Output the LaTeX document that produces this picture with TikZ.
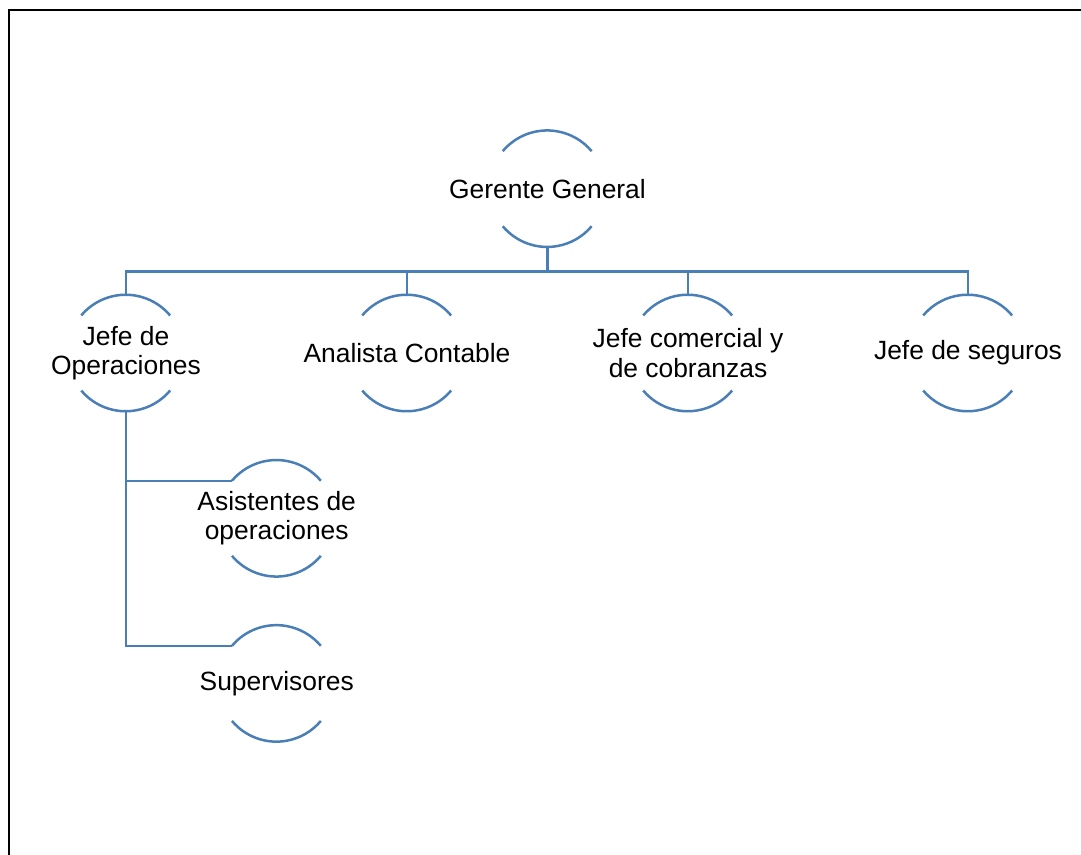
\documentclass[tikz,border=0pt]{standalone}
\usepackage{fontspec}
\setmainfont{Liberation Sans}
\usepackage{tikz}
\usetikzlibrary{positioning,calc}
\pgfdeclarelayer{bg}
\pgfsetlayers{bg,main}
\definecolor{orgblue}{RGB}{74,126,182}

\tikzset{
  post/.style={circle, minimum size=58pt, inner sep=0pt, draw=none},
  txt/.style={font=\fontsize{13.2}{14.7}\selectfont, align=center, inner sep=0pt},
  ring/.style={draw=orgblue, line width=1.25pt},
  conn/.style={draw=orgblue, line width=1.25pt},
}

\begin{document}
\begin{tikzpicture}[x=0.5pt, y=0.5pt]
    \useasboundingbox (0,0) rectangle (1081,-855);
    \draw[black, line width=1pt] (9,-855) -- (9,-10) -- (1081,-10);

    \coordinate (bus) at (0,-271.5);

    \node [post, label={[txt]center:Gerente General}] (ger) at (547.5,-188.7) {};
    \node [post, label={[txt]center:Jefe de\\Operaciones}] (jop) at (126,-353) {};
    \node [post, label={[txt]center:Analista Contable}] (acon) at (407,-353) {};
    \node [post, label={[txt]center:Jefe comercial y\\de cobranzas}] (jcom) at (688,-353) {};
    \node [post, label={[txt]center:Jefe de seguros}] (seg) at (968,-353) {};
    \node [post, label={[txt]center:Asistentes de\\operaciones}] (asis) at (276.7,-518.3) {};
    \node [post, label={[txt]center:Supervisores}] (sup) at (276.7,-683.4) {};

    % arcs above and below each post
    \foreach \p in {ger,jop,acon,jcom,seg,asis,sup} {
        \draw[ring] (\p.140) arc[start angle=140, end angle=40, radius=29pt];
        \draw[ring] (\p.220) arc[start angle=220, end angle=320, radius=29pt];
    }

    \begin{pgfonlayer}{bg}    % connectors behind
        \draw[conn] (ger.south) -- (ger.south |- bus);
        \draw[conn] (jop.north) -- (jop.north |- bus) -- (seg.north |- bus) -- (seg.north);
        \draw[conn] (acon.north) -- (acon.north |- bus);
        \draw[conn] (jcom.north) -- (jcom.north |- bus);
        \draw[conn] (jop.south) |- (asis.140);
        \draw[conn] (jop.south) |- (sup.140);
    \end{pgfonlayer}

\end{tikzpicture}
\end{document}
